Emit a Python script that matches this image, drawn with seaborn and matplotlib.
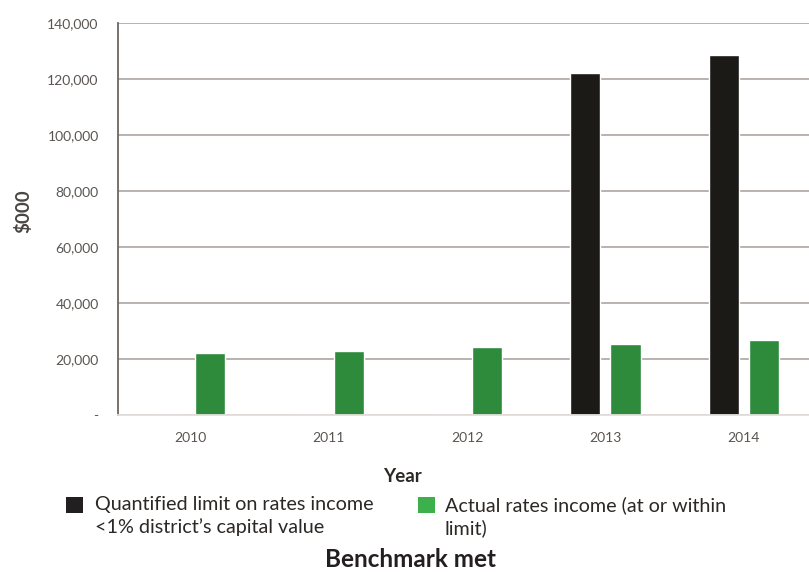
import pandas as pd
import matplotlib.pyplot as plt
import seaborn as sns
from matplotlib.patches import Rectangle
from matplotlib.ticker import FuncFormatter

# data ($000)
years = ['2010', '2011', '2012', '2013', '2014']
limit_vals = [0, 0, 0, 122000, 128600]
actual_vals = [22300, 23000, 24100, 25500, 26700]
series_names = ['Quantified limit on rates income\n<1% district\u2019s capital value',
                'Actual rates income (at or within\nlimit)']

df = pd.DataFrame({
    'Year': years * 2,
    'value': limit_vals + actual_vals,
    'series': [series_names[0]] * 5 + [series_names[1]] * 5,
})

sns.set_style('white')
plt.rcParams['font.family'] = ['Lato', 'DejaVu Sans']

text_col = '#5a5551'
bar_cols = ['#1c1a17', '#2e8b3c']
legend_cols = ['#231f20', '#3cb04a']

fig = plt.figure(figsize=(8.09, 5.72), dpi=100)
ax = fig.add_axes([0.146, 0.2745, 0.854, 0.6855])

sns.barplot(data=df, x='Year', y='value', hue='series', palette=bar_cols,
            width=0.58, gap=0.25, saturation=1, legend=False, ax=ax)

ax.set_ylim(0, 140000)
ax.set_xlim(-0.52, 4.47)
ax.set_yticks(range(0, 140001, 20000))
ax.yaxis.set_major_formatter(FuncFormatter(lambda v, p: '-' if v == 0 else f'{v:,.0f}'))
ax.grid(axis='y', color='#b3aba8', linewidth=1.3)
ax.set_axisbelow(True)
for s in ['top', 'right']:
    ax.spines[s].set_visible(False)
ax.spines['left'].set_color('#6e6661')
ax.spines['left'].set_linewidth(1.3)
ax.spines['bottom'].set_color('#e3dedb')
ax.spines['bottom'].set_linewidth(1.3)
ax.tick_params(axis='both', length=0, labelsize=10, colors=text_col)
ax.tick_params(axis='y', pad=14)
ax.tick_params(axis='x', pad=12)

ax.set_xlabel('Year', fontsize=13.5, fontweight='bold', color='#2b2825')
ax.xaxis.set_label_coords(0.411, -0.135)
ax.set_ylabel('$000', fontsize=13.5, fontweight='bold', color='#4a4541')
ax.yaxis.set_label_coords(-0.124, 0.52)

# legend below the axes, square lined up with the first text line
legend_x = [66, 418]
text_x = [95, 445]
for i in range(2):
    fig.add_artist(Rectangle((legend_x[i] / 809, 1 - 513 / 572), 17 / 809, 16 / 572,
                             transform=fig.transFigure, facecolor=legend_cols[i],
                             edgecolor='none'))
    fig.text(text_x[i] / 809, 1 - 496 / 572, series_names[i], ha='left', va='top',
             fontsize=14.2, color='#2b2825', linespacing=1.38)

fig.text(0.507, 0.008, 'Benchmark met', ha='center', va='baseline', fontsize=17.5,
         fontweight='bold', color='#231f20')

fig.savefig('out.png', dpi=100)
